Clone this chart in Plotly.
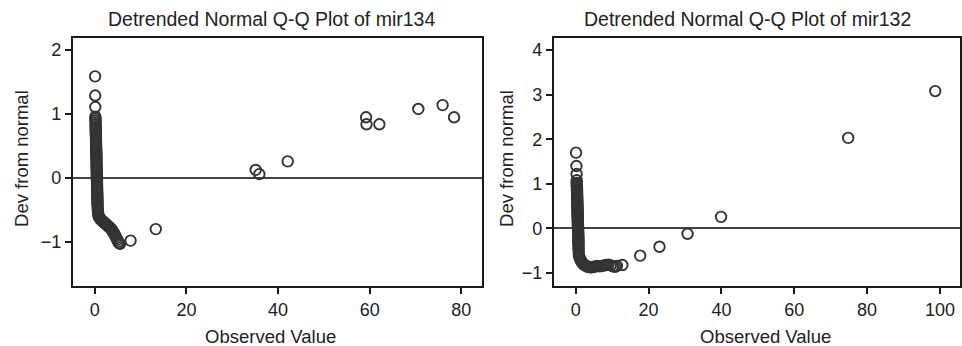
import plotly.graph_objects as go

# ---- mir134 (left panel) ----
mir134_observed = [
    0.05, 0.08, 0.10, 0.12,
    0.14, 0.15, 0.16, 0.17, 0.18, 0.19, 0.20, 0.21, 0.22, 0.23, 0.24, 0.25, 0.26,
    0.27, 0.28, 0.29, 0.30, 0.31, 0.32, 0.33, 0.34, 0.35, 0.36, 0.37, 0.38, 0.39,
    0.40, 0.41, 0.42, 0.43, 0.44, 0.45, 0.46, 0.47, 0.48, 0.49, 0.50, 0.51, 0.52,
    0.53, 0.54, 0.55, 0.56, 0.57, 0.58, 0.60, 0.62, 0.64, 0.67, 0.71, 0.76, 0.82,
    1.0, 1.2, 1.4, 1.6, 1.8, 2.0, 2.2, 2.4, 2.6, 2.8, 3.0, 3.2, 3.4, 3.6, 3.8,
    3.9, 4.1, 4.3, 4.5, 4.7, 4.9, 5.1, 5.3, 5.5,
    7.8, 13.3, 35.1, 35.9, 42.1, 59.2, 59.3, 62.1, 70.6, 75.9, 78.4,
]
mir134_dev = [
    1.59, 1.29, 1.11, 0.96,
    0.93, 0.90, 0.87, 0.84, 0.81, 0.78, 0.75, 0.72, 0.69, 0.66, 0.63, 0.60, 0.57,
    0.54, 0.51, 0.48, 0.45, 0.42, 0.39, 0.36, 0.33, 0.30, 0.27, 0.24, 0.21, 0.18,
    0.15, 0.12, 0.09, 0.06, 0.03, 0.00, -0.03, -0.06, -0.09, -0.12, -0.15, -0.18, -0.21,
    -0.24, -0.27, -0.30, -0.33, -0.36, -0.39, -0.42, -0.45, -0.48, -0.51, -0.54, -0.57, -0.60,
    -0.62, -0.64, -0.66, -0.67, -0.68, -0.70, -0.71, -0.72, -0.73, -0.75, -0.76, -0.77, -0.79, -0.80, -0.82,
    -0.84, -0.86, -0.88, -0.91, -0.94, -0.97, -1.00, -1.02, -1.03,
    -0.98, -0.80, 0.125, 0.06, 0.26, 0.95, 0.84, 0.84, 1.08, 1.14, 0.95,
]

# ---- mir132 (right panel) ----
mir132_observed = [
    0.10, 0.20, 0.25, 0.28,
    0.30, 0.31, 0.32, 0.33, 0.34, 0.35, 0.36, 0.37, 0.38, 0.39, 0.40, 0.41, 0.42,
    0.43, 0.44, 0.45, 0.46, 0.47, 0.48, 0.49, 0.50, 0.51, 0.52, 0.53, 0.54, 0.55,
    0.56, 0.57, 0.58, 0.59, 0.60, 0.61, 0.62, 0.63, 0.64, 0.65, 0.66, 0.67, 0.68,
    0.69, 0.70, 0.71, 0.72, 0.73, 0.74, 0.75, 0.76, 0.78, 0.81, 0.85, 0.90,
    1.0, 1.2, 1.4, 1.6, 1.9, 2.2, 2.6, 3.0, 3.4, 3.9, 4.4, 5.0, 5.5, 6.0, 6.6,
    7.2, 7.8, 8.4, 9.0, 9.6, 10.2, 10.8, 11.3, 12.8,
    17.7, 23.0, 30.7, 39.9, 74.8, 98.7,
]
mir132_dev = [
    1.70, 1.40, 1.22, 1.08,
    1.02, 0.99, 0.96, 0.93, 0.90, 0.87, 0.84, 0.81, 0.78, 0.75, 0.72, 0.69, 0.66,
    0.63, 0.60, 0.57, 0.54, 0.51, 0.48, 0.45, 0.42, 0.39, 0.36, 0.33, 0.30, 0.27,
    0.24, 0.21, 0.18, 0.15, 0.12, 0.09, 0.06, 0.03, 0.00, -0.03, -0.06, -0.09, -0.12,
    -0.15, -0.18, -0.21, -0.24, -0.27, -0.30, -0.33, -0.36, -0.42, -0.48, -0.54, -0.60,
    -0.64, -0.68, -0.72, -0.75, -0.78, -0.81, -0.83, -0.85, -0.86, -0.87, -0.87, -0.86, -0.85, -0.84, -0.85,
    -0.84, -0.83, -0.82, -0.81, -0.83, -0.85, -0.86, -0.84, -0.82,
    -0.61, -0.41, -0.12, 0.26, 2.03, 3.08,
]

panel_titles = ["Detrended Normal Q-Q Plot of mir134", "Detrended Normal Q-Q Plot of mir132"]
x_title = "Observed Value"
y_title = "Dev from normal"

W, H = 962, 346
FONT = "Liberation Sans, Arial, Helvetica, sans-serif"
INK = "#222222"

fig = go.Figure()
marker = dict(symbol="circle-open", size=10.5, color="#333333", line=dict(width=1.9, color="#333333"))
fig.add_trace(go.Scatter(x=mir134_observed, y=mir134_dev, mode="markers", marker=marker,
                         xaxis="x", yaxis="y", showlegend=False))
fig.add_trace(go.Scatter(x=mir132_observed, y=mir132_dev, mode="markers", marker=marker,
                         xaxis="x2", yaxis="y2", showlegend=False))

ydom = [(H - 286) / H, (H - 38) / H]
axis_common = dict(showline=True, mirror=True, linecolor="#1a1a1a", linewidth=2,
                   ticks="outside", ticklen=6, tickwidth=2, tickcolor="#1a1a1a",
                   showgrid=False, tickfont=dict(size=18, color=INK, family=FONT))

fig.update_layout(
    width=W, height=H,
    margin=dict(l=0, r=0, t=0, b=0),
    paper_bgcolor="white", plot_bgcolor="white",
    font=dict(family=FONT, color=INK),
    xaxis=dict(domain=[73 / W, 483 / W], range=[-4.8, 84.5], tickvals=[0, 20, 40, 60, 80],
               zeroline=False, anchor="y", **axis_common),
    yaxis=dict(domain=ydom, range=[-1.69, 2.19], tickvals=[-1, 0, 1, 2], ticktext=["\u22121", "0", "1", "2"],
               zeroline=True, zerolinecolor="#444444", zerolinewidth=2, anchor="x", **axis_common),
    xaxis2=dict(domain=[555 / W, 1.0], range=[-6.0, 105.5], tickvals=[0, 20, 40, 60, 80, 100],
                zeroline=False, anchor="y2", **axis_common),
    yaxis2=dict(domain=ydom, range=[-1.29, 4.27], tickvals=[-1, 0, 1, 2, 3, 4],
                ticktext=["\u22121", "0", "1", "2", "3", "4"],
                zeroline=True, zerolinecolor="#444444", zerolinewidth=2, anchor="x2", **axis_common),
)

ann = []
for cx, t in zip([272, 749], panel_titles):
    ann.append(dict(x=cx / W, y=1 - 19 / H, xref="paper", yref="paper", text=t, showarrow=False,
                    xanchor="center", yanchor="middle", font=dict(size=19.5, color=INK, family=FONT)))
for cx in [271, 767]:
    ann.append(dict(x=cx / W, y=1 - 336 / H, xref="paper", yref="paper", text=x_title, showarrow=False,
                    xanchor="center", yanchor="middle", font=dict(size=18.5, color=INK, family=FONT)))
for cx in [22, 508]:
    ann.append(dict(x=cx / W, y=1 - 158 / H, xref="paper", yref="paper", text=y_title, showarrow=False,
                    textangle=-90, xanchor="center", yanchor="middle", font=dict(size=18.5, color=INK, family=FONT)))
fig.update_layout(annotations=ann)

fig.write_html("out.html", config={"displayModeBar": False},
               post_script="document.body.style.margin='0px';document.body.style.overflow='hidden';")
